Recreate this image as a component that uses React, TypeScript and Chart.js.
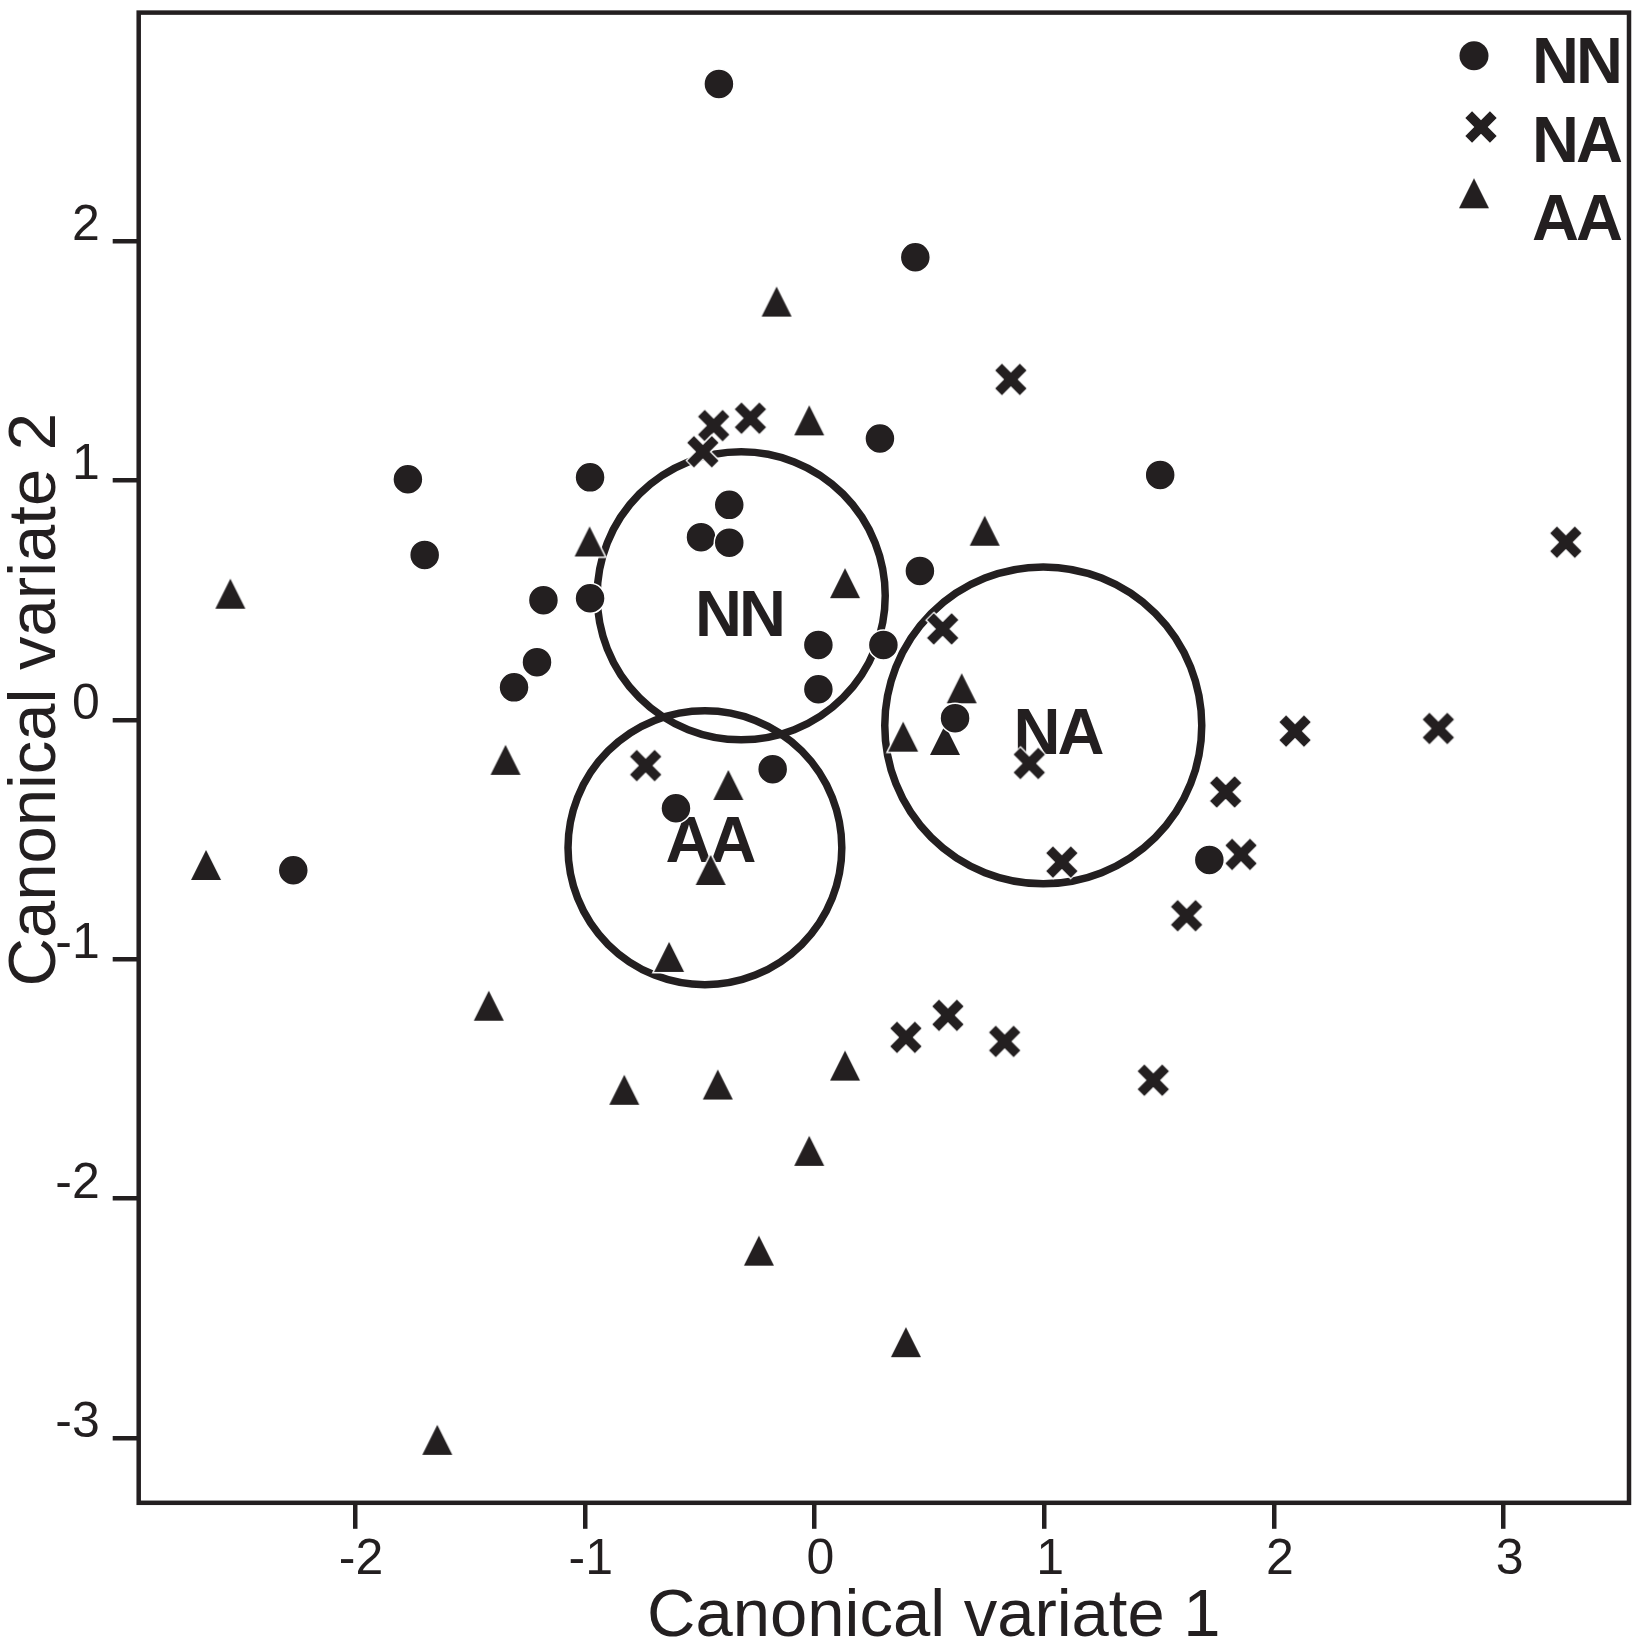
import React, { useEffect, useRef } from 'react';
import { Chart, registerables } from 'chart.js';

Chart.register(...registerables);

const INK = '#231f20';
const FAMILY = '"Liberation Sans", Arial, Helvetica, sans-serif';

// ---- data ----
const groupNames = ['NN', 'NA', 'AA'];

const nnX = [-0.416, 0.439, -1.770, -0.977, 0.285, 1.505, -1.697, -0.371, -0.494, -0.371, 0.459, -1.180, -0.977, -1.208, -1.308, 0.017, 0.300, 0.017, 0.612, -0.182, -0.603, -2.269, 1.719];
const nnY = [2.656, 1.932, 1.005, 1.013, 1.175, 1.023, 0.689, 0.898, 0.763, 0.740, 0.622, 0.500, 0.508, 0.241, 0.136, 0.313, 0.313, 0.128, 0.007, -0.206, -0.369, -0.628, -0.585];

const naX = [-0.439, -0.279, -0.486, 0.855, 3.271, 0.558, 2.092, 2.716, 0.935, -0.735, 1.790, 1.857, 1.077, 1.620, 0.398, 0.581, 0.828, 1.475];
const naY = [1.229, 1.260, 1.120, 1.422, 0.742, 0.380, -0.047, -0.036, -0.182, -0.191, -0.301, -0.562, -0.594, -0.818, -1.326, -1.234, -1.343, -1.505];

const aaX = [-0.165, -0.023, 0.741, -0.979, 0.133, -2.543, 0.641, 0.386, 0.568, -1.345, -0.375, -0.452, -2.649, -0.633, -1.418, -0.828, -0.421, 0.133, -0.023, -0.242, 0.398, -1.642];
const aaY = [1.747, 1.251, 0.790, 0.745, 0.571, 0.527, 0.132, -0.070, -0.084, -0.167, -0.272, -0.627, -0.606, -0.990, -1.194, -1.545, -1.523, -1.444, -1.800, -2.217, -2.599, -3.007];

// group circles (centre, radius in x-units) and their labels
const ringNames = ['NN', 'AA', 'NA'];
const ringCenterX = [-0.319, -0.477, 0.996];
const ringCenterY = [0.518, -0.534, -0.023];
const ringRadius = [0.627, 0.596, 0.690];
const ringLabelX = [-0.322, -0.451, 1.064];
const ringLabelY = [0.425, -0.520, -0.068];

const xTicks = [-2, -1, 0, 1, 2, 3];
const xTickLabels = ['-2', '-1', '0', '1', '2', '3'];
const yTicks = [-3, -2, -1, 0, 1, 2];
const yTickLabels = ['-3', '-2', '-1', '0', '1', '2'];

const xMin = -2.942;
const xMax = 3.546;
const yMin = -3.27;
const yMax = 2.954;

const xTitle = 'Canonical variate 1';
const yTitle = 'Canonical variate 2';

// ---- marker images ----
function makeCross(): HTMLCanvasElement {
  const size = 38;
  const c = document.createElement('canvas');
  c.width = size;
  c.height = size;
  const g = c.getContext('2d')!;
  const m = size / 2;
  const d = 12.3;
  const line = (ext: number) => {
    g.beginPath();
    g.moveTo(m - d - ext, m - d - ext);
    g.lineTo(m + d + ext, m + d + ext);
    g.moveTo(m + d + ext, m - d - ext);
    g.lineTo(m - d - ext, m + d + ext);
    g.stroke();
  };
  g.lineCap = 'butt';
  g.strokeStyle = '#ffffff';
  g.lineWidth = 12.5;
  line(0.8);
  g.strokeStyle = INK;
  g.lineWidth = 9.5;
  line(0);
  return c;
}

function makeTriangle(): HTMLCanvasElement {
  const size = 36;
  const c = document.createElement('canvas');
  c.width = size;
  c.height = size;
  const g = c.getContext('2d')!;
  g.beginPath();
  g.moveTo(18, 3);
  g.lineTo(33, 33);
  g.lineTo(3, 33);
  g.closePath();
  g.lineJoin = 'miter';
  g.strokeStyle = '#ffffff';
  g.lineWidth = 3;
  g.stroke();
  g.fillStyle = INK;
  g.fill();
  return c;
}

const zeroPad = (axis: any) => {
  axis.paddingTop = 0;
  axis.paddingBottom = 0;
  axis.paddingLeft = 0;
  axis.paddingRight = 0;
};

export default function App() {
  const ref = useRef<HTMLCanvasElement>(null);

  useEffect(() => {
    const canvas = ref.current;
    if (!canvas) return;
    const crossImg = makeCross();
    const triImg = makeTriangle();

    const decor = {
      id: 'decor',
      beforeDatasetsDraw(chart: any) {
        const { ctx, scales } = chart;
        const x = scales.x;
        const y = scales.y;
        const ppu = Math.abs(x.getPixelForValue(1) - x.getPixelForValue(0));
        ctx.save();
        ctx.strokeStyle = INK;
        ctx.lineWidth = 7.5;
        ringCenterX.forEach((cx, i) => {
          ctx.beginPath();
          ctx.arc(x.getPixelForValue(cx), y.getPixelForValue(ringCenterY[i]), ringRadius[i] * ppu, 0, Math.PI * 2);
          ctx.stroke();
        });
        ctx.fillStyle = INK;
        ctx.font = 'bold 65px ' + FAMILY;
        ctx.textAlign = 'center';
        ctx.textBaseline = 'middle';
        (ctx as any).letterSpacing = '-3px';
        ringNames.forEach((name, i) => {
          ctx.fillText(name, x.getPixelForValue(ringLabelX[i]) - 1.5, y.getPixelForValue(ringLabelY[i]));
        });
        ctx.restore();
      },
      afterDatasetsDraw(chart: any) {
        const { ctx, chartArea } = chart;
        const { left, right, top, bottom } = chartArea;
        ctx.save();
        // frame
        ctx.strokeStyle = INK;
        ctx.lineWidth = 4.5;
        ctx.strokeRect(left, top, right - left, bottom - top);

        // legend
        const symX = right - 155;
        const symY = [top + 43.1, top + 114.4, top + 180.7];
        const textX = right - 97;
        const baseY = [top + 70.7, top + 149.1, top + 227.4];
        ctx.fillStyle = INK;
        ctx.beginPath();
        ctx.arc(symX, symY[0], 14.5, 0, Math.PI * 2);
        ctx.fill();
        ctx.drawImage(crossImg, symX + 7 - crossImg.width / 2, symY[1] - crossImg.height / 2);
        ctx.drawImage(triImg, symX - triImg.width / 2, symY[2] - triImg.height / 2);
        ctx.font = 'bold 65px ' + FAMILY;
        ctx.textAlign = 'left';
        ctx.textBaseline = 'alphabetic';
        (ctx as any).letterSpacing = '-3px';
        chart.data.datasets.forEach((ds: any, i: number) => {
          ctx.fillText(ds.label, textX, baseY[i]);
        });
        ctx.restore();
      },
      afterDraw(chart: any) {
        const { ctx, chartArea } = chart;
        const { left, right, top, bottom } = chartArea;
        ctx.save();
        ctx.fillStyle = INK;
        ctx.font = '67px ' + FAMILY;
        ctx.textAlign = 'center';
        ctx.textBaseline = 'middle';
        ctx.fillText(xTitle, (left + right) / 2 + 50, bottom + 115);
        ctx.translate(37, (top + bottom) / 2 - 58);
        ctx.rotate(-Math.PI / 2);
        ctx.fillText(yTitle, 0, 0);
        ctx.restore();
      },
    };

    const toPts = (xs: number[], ys: number[]) => xs.map((v, i) => ({ x: v, y: ys[i] }));

    const tickFont = { size: 50, family: FAMILY };

    const chart = new Chart(canvas, {
      type: 'scatter',
      data: {
        datasets: [
          {
            label: groupNames[0],
            data: toPts(nnX, nnY),
            pointStyle: 'circle',
            pointRadius: 15,
            pointBackgroundColor: INK,
            pointBorderColor: '#ffffff',
            pointBorderWidth: 1.5,
          },
          {
            label: groupNames[1],
            data: toPts(naX, naY),
            pointStyle: crossImg as any,
            pointRadius: 15,
          },
          {
            label: groupNames[2],
            data: toPts(aaX, aaY),
            pointStyle: triImg as any,
            pointRadius: 15,
          },
        ],
      },
      options: {
        responsive: false,
        animation: false,
        devicePixelRatio: 1,
        events: [],
        layout: { autoPadding: false, padding: { top: 12.6, right: 3, left: 0, bottom: 0 } },
        plugins: {
          legend: { display: false },
          tooltip: { enabled: false },
        },
        scales: {
          x: {
            type: 'linear',
            position: 'bottom',
            min: xMin,
            max: xMax,
            bounds: 'data',
            afterBuildTicks: (axis: any) => {
              axis.ticks = xTicks.map((v) => ({ value: v }));
            },
            afterFit: (axis: any) => {
              axis.height = 145.2;
              zeroPad(axis);
            },
            ticks: {
              autoSkip: false,
              maxRotation: 0,
              minRotation: 0,
              padding: 1,
              labelOffset: 6,
              color: INK,
              font: tickFont,
              callback: (v: any) => {
                const i = xTicks.indexOf(Number(v));
                return i >= 0 ? xTickLabels[i] : '';
              },
            },
            grid: {
              drawOnChartArea: false,
              drawTicks: true,
              tickLength: 26,
              tickWidth: 4.5,
              tickColor: INK,
              color: INK,
              lineWidth: 4.5,
            },
            border: { display: false },
          },
          y: {
            type: 'linear',
            position: 'left',
            min: yMin,
            max: yMax,
            bounds: 'data',
            afterBuildTicks: (axis: any) => {
              axis.ticks = yTicks.map((v) => ({ value: v }));
            },
            afterFit: (axis: any) => {
              axis.width = 138.7;
              zeroPad(axis);
            },
            ticks: {
              autoSkip: false,
              padding: 13,
              labelOffset: -15,
              color: INK,
              font: tickFont,
              callback: (v: any) => {
                const i = yTicks.indexOf(Number(v));
                return i >= 0 ? yTickLabels[i] : '';
              },
            },
            grid: {
              drawOnChartArea: false,
              drawTicks: true,
              tickLength: 26,
              tickWidth: 4.5,
              tickColor: INK,
              color: INK,
              lineWidth: 4.5,
            },
            border: { display: false },
          },
        },
      },
      plugins: [decor],
    } as any);

    return () => chart.destroy();
  }, []);

  return (
    <div style={{ position: 'fixed', left: 0, top: 0, width: 1632, height: 1648, background: '#ffffff' }}>
      <canvas ref={ref} width={1632} height={1648} style={{ display: 'block', width: 1632, height: 1648 }} />
    </div>
  );
}
